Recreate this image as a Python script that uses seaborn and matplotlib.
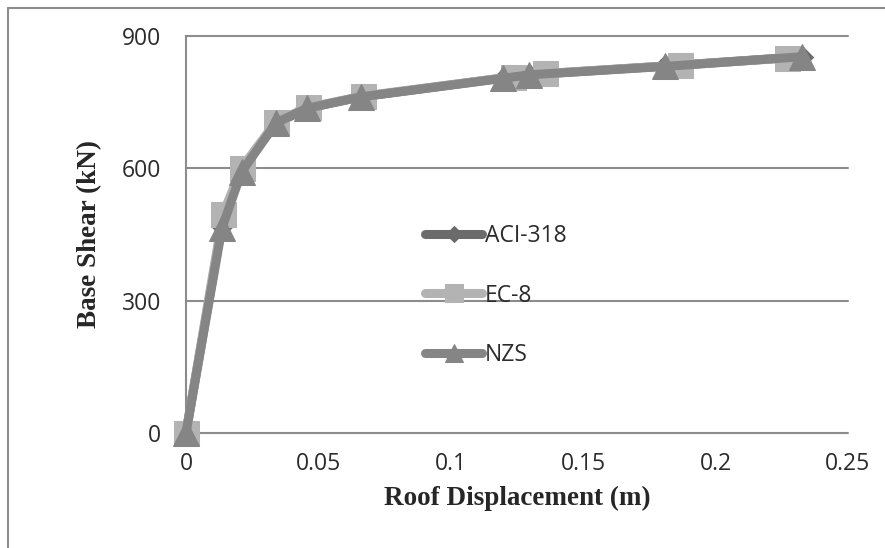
import matplotlib
matplotlib.use("Agg")
import matplotlib.pyplot as plt
import seaborn as sns
import pandas as pd
from matplotlib.lines import Line2D

# ---- data ----
aci_x = [0, 0.0135, 0.021, 0.034, 0.0455, 0.066, 0.120, 0.1295, 0.181, 0.2325]
aci_y = [0, 470, 598, 702, 736, 762, 805, 812, 832, 853]
ec8_x = [0, 0.014, 0.021, 0.034, 0.046, 0.067, 0.1235, 0.1356, 0.1866, 0.2268]
ec8_y = [0, 497, 601, 706, 738, 764, 808, 815, 834, 850]
nzs_x = [0, 0.0136, 0.021, 0.034, 0.0456, 0.066, 0.1198, 0.1295, 0.181, 0.2325]
nzs_y = [0, 465, 592, 703, 736, 762, 804, 812, 831, 853]
series_names = ["ACI-318", "EC-8", "NZS"]
x_ticks = [0, 0.05, 0.1, 0.15, 0.2, 0.25]
x_tick_labels = ["0", "0.05", "0.1", "0.15", "0.2", "0.25"]
y_ticks = [0, 300, 600, 900]
y_tick_labels = ["0", "300", "600", "900"]

sns.set_style("white")
plt.rcParams['font.family'] = ['Open Sans', 'DejaVu Sans']

W, H = 885, 548
fig = plt.figure(figsize=(W / 100, H / 100), dpi=100)
ax = fig.add_axes([186 / W, 1 - 433 / H, (848 - 186) / W, (433 - 36) / H])

grid_c = "#8c8c8c"
styles = {
    "ACI-318": dict(color="#6b6b6b", marker="D", ms=11),
    "EC-8": dict(color="#b3b3b3", marker="s", ms=18),
    "NZS": dict(color="#858585", marker="^", ms=19),
}
data = {"ACI-318": (aci_x, aci_y), "EC-8": (ec8_x, ec8_y), "NZS": (nzs_x, nzs_y)}

for name in series_names:
    xs, ys = data[name]
    df = pd.DataFrame({"x": xs, "y": ys})
    st = styles[name]
    sns.lineplot(data=df, x="x", y="y", sort=False, ax=ax, color=st["color"],
                 linewidth=6.5, marker=st["marker"], markersize=st["ms"],
                 markeredgecolor=st["color"], markerfacecolor=st["color"],
                 label=name, solid_capstyle="round", zorder=3, clip_on=False)

ax.set_xlim(0, 0.25)
ax.set_ylim(0, 900)
ax.set_xticks(x_ticks)
ax.set_xticklabels(x_tick_labels)
ax.set_yticks(y_ticks)
ax.set_yticklabels(y_tick_labels)
ax.tick_params(axis="both", length=0, labelsize=16.5, labelcolor="#2b2b2b")
ax.tick_params(axis="y", pad=18)
ax.tick_params(axis="x", pad=14)

ax.grid(False)
for yv in y_ticks:
    ax.axhline(yv, color=grid_c, linewidth=1.5, zorder=1, clip_on=False)
for s in ["top", "right", "bottom"]:
    ax.spines[s].set_visible(False)
ax.spines["left"].set_color(grid_c)
ax.spines["left"].set_linewidth(1.5)

lab_font = dict(family=["Liberation Serif", "DejaVu Serif"], weight="bold", size=19.5, color="#262626")
ax.set_xlabel("Roof Displacement (m)", labelpad=7, **lab_font)
ax.set_ylabel("Base Shear (kN)", labelpad=14, **lab_font)

leg = ax.legend(loc="upper left", bbox_to_anchor=(425 / W, 1 - 224 / H),
                bbox_transform=fig.transFigure, frameon=False, fontsize=16.5,
                handlelength=2.5, handletextpad=0.12, labelspacing=1.55,
                markerscale=0.7, borderpad=0, borderaxespad=0)
for t in leg.get_texts():
    t.set_color("#2b2b2b")

# outer frame (left and top edges visible)
fig.add_artist(Line2D([8 / W, 8 / W], [0, 1 - 8 / H], transform=fig.transFigure,
                      color=grid_c, linewidth=1.5))
fig.add_artist(Line2D([8 / W, 1], [1 - 8 / H, 1 - 8 / H], transform=fig.transFigure,
                      color=grid_c, linewidth=1.5))

fig.savefig("out.png", dpi=100)
